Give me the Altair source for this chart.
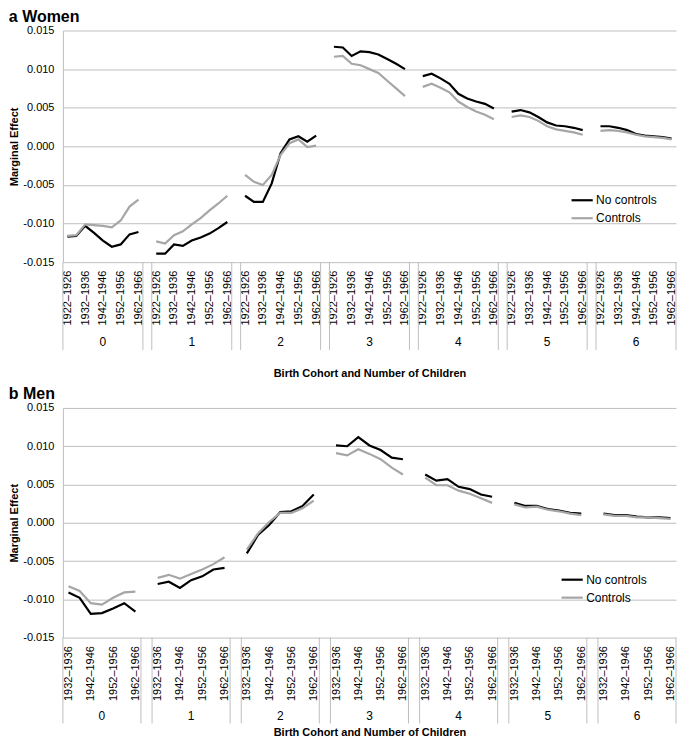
import json
import altair as alt
import pandas as pd

FONT = "Liberation Sans"

children = [0, 1, 2, 3, 4, 5, 6]
women_cohorts = ["1922–1926", "1927–1931", "1932–1936", "1937–1941", "1942–1946",
                 "1947–1951", "1952–1956", "1957–1961", "1962–1966"]
men_cohorts = ["1932–1936", "1937–1941", "1942–1946", "1947–1951", "1952–1956",
               "1957–1961", "1962–1966"]

women_no_controls = [
    [-0.0117, -0.0116, -0.0103, -0.0112, -0.0122, -0.0130, -0.0127, -0.0114, -0.0111],
    [-0.0139, -0.0139, -0.0127, -0.0129, -0.0122, -0.0118, -0.0113, -0.0106, -0.0098],
    [-0.0064, -0.0072, -0.0072, -0.0048, -0.0009, 0.0009, 0.0013, 0.0006, 0.0014],
    [0.0129, 0.0128, 0.0117, 0.0123, 0.0122, 0.0119, 0.0113, 0.0107, 0.0100],
    [0.0091, 0.0094, 0.0088, 0.0081, 0.0068, 0.0062, 0.0058, 0.0055, 0.0049],
    [0.0045, 0.0047, 0.0044, 0.0038, 0.0031, 0.0027, 0.0026, 0.0024, 0.0021],
    [0.0026, 0.0026, 0.0024, 0.0021, 0.0016, 0.0014, 0.0013, 0.0012, 0.0010],
]
women_controls = [
    [-0.0116, -0.0115, -0.0101, -0.0102, -0.0103, -0.0105, -0.0096, -0.0078, -0.0069],
    [-0.0123, -0.0126, -0.0115, -0.0110, -0.0101, -0.0093, -0.0083, -0.0074, -0.0064],
    [-0.0037, -0.0046, -0.0050, -0.0037, -0.0011, 0.0004, 0.0009, -0.0001, 0.0001],
    [0.0116, 0.0117, 0.0107, 0.0105, 0.0100, 0.0095, 0.0085, 0.0075, 0.0065],
    [0.0077, 0.0081, 0.0076, 0.0070, 0.0058, 0.0051, 0.0045, 0.0041, 0.0035],
    [0.0038, 0.0040, 0.0038, 0.0033, 0.0026, 0.0022, 0.0020, 0.0018, 0.0015],
    [0.0020, 0.0021, 0.0020, 0.0018, 0.0015, 0.0013, 0.0012, 0.0011, 0.0009],
]
men_no_controls = [
    [-0.0091, -0.0098, -0.0119, -0.0118, -0.0112, -0.0105, -0.0116],
    [-0.0080, -0.0077, -0.0085, -0.0075, -0.0070, -0.0061, -0.0059],
    [-0.0040, -0.0016, -0.0003, 0.0014, 0.0015, 0.0022, 0.0037],
    [0.0101, 0.0100, 0.0112, 0.0101, 0.0095, 0.0085, 0.0083],
    [0.0063, 0.0055, 0.0057, 0.0047, 0.0044, 0.0037, 0.0034],
    [0.0026, 0.0022, 0.0022, 0.0018, 0.0016, 0.0013, 0.0012],
    [0.0012, 0.0010, 0.0010, 0.0008, 0.0007, 0.0007, 0.0006],
]
men_controls = [
    [-0.0083, -0.0089, -0.0105, -0.0107, -0.0098, -0.0091, -0.0090],
    [-0.0072, -0.0068, -0.0073, -0.0067, -0.0061, -0.0054, -0.0045],
    [-0.0035, -0.0014, 0.0001, 0.0013, 0.0013, 0.0019, 0.0029],
    [0.0091, 0.0088, 0.0096, 0.0090, 0.0083, 0.0072, 0.0063],
    [0.0059, 0.0049, 0.0049, 0.0042, 0.0038, 0.0032, 0.0026],
    [0.0024, 0.0020, 0.0021, 0.0017, 0.0015, 0.0012, 0.0010],
    [0.0011, 0.0009, 0.0009, 0.0007, 0.0007, 0.0006, 0.0005],
]
series_names = ["No controls", "Controls"]
y_ticks = [-0.015, -0.010, -0.005, 0.0, 0.005, 0.010, 0.015]

GRID = "#bfbfbf"
PLOT_W = 614


def panel(title, cohorts, nc, c, height, leg_x, leg_y, title_pad, num_dy, rule_len):
    n = len(cohorts)
    period = n + 1
    npos = len(children) * period - 1
    rows = []
    for s, vals in zip(series_names, [nc, c]):
        for g, ch in enumerate(children):
            for i, coh in enumerate(cohorts):
                rows.append({"pos": g * period + i, "group": ch, "cohort": coh,
                             "series": s, "value": vals[g][i]})
    df = pd.DataFrame(rows)

    x_scale = alt.Scale(domain=[-0.5, npos - 0.5], nice=False, zero=False)
    label_arr = json.dumps(cohorts, ensure_ascii=False)
    tick_vals = [g * period + i for g in range(len(children)) for i in range(0, n, 2)]
    x_axis = alt.Axis(values=tick_vals, labelExpr=f"{label_arr}[datum.value % {period}]",
                      labelAngle=270, labelAlign="right", labelBaseline="middle",
                      labelPadding=8, ticks=False, domain=False, grid=False,
                      labelOverlap=False, labelFlush=False, labelFontSize=11,
                      labelColor="#000000",
                      title="Birth Cohort and Number of Children", titleFontSize=11,
                      titleFontWeight="bold", titleColor="#000000", titlePadding=title_pad)
    x_enc = alt.X("pos:Q", scale=x_scale, axis=x_axis)

    y_axis = alt.Axis(values=y_ticks,
                      labelExpr="replace(format(datum.value, '.3f'), '\u2212', '-')",
                      ticks=False, domain=True, domainColor=GRID, grid=True, gridColor=GRID,
                      labelPadding=9, labelFontSize=11, labelColor="#000000",
                      title="Marginal Effect", titleFontSize=11, titleFontWeight="bold",
                      titleColor="#000000", titlePadding=3)

    lines = alt.Chart(df).mark_line(strokeWidth=2.2).encode(
        x=x_enc,
        y=alt.Y("value:Q", scale=alt.Scale(domain=[-0.015, 0.015], nice=False, zero=False),
                axis=y_axis),
        color=alt.Color("series:N",
                        scale=alt.Scale(domain=series_names, range=["#000000", "#a6a6a6"]),
                        sort=series_names,
                        legend=alt.Legend(orient="none", legendX=leg_x, legendY=leg_y,
                                          title=None, symbolType="stroke",
                                          symbolStrokeWidth=2.2, symbolSize=450,
                                          labelFontSize=12, labelColor="#000000",
                                          rowPadding=0, labelOffset=2, padding=0)),
        detail="group:N",
        order=alt.Order("pos:Q"),
    )

    bounds = sorted(set([g * period - 0.5 for g in range(len(children))] +
                        [g * period + n - 0.5 for g in range(len(children))]))
    rules = alt.Chart(pd.DataFrame({"pos": bounds})).mark_rule(
        color=GRID, strokeWidth=1).encode(
        x=x_enc, y=alt.value(height), y2=alt.value(height + rule_len))

    grp = pd.DataFrame({"pos": [g * period + (n - 1) / 2 for g in range(len(children))],
                        "label": [str(ch) for ch in children]})
    nums = alt.Chart(grp).mark_text(fontSize=12, color="#000000").encode(
        x=x_enc, y=alt.value(height + num_dy), text="label:N")

    return alt.layer(rules, lines, nums).properties(
        width=PLOT_W, height=height,
        title=alt.TitleParams(text=title, anchor="start", frame="bounds", fontSize=16,
                              fontWeight="bold", color="#000000", offset=0, font=FONT),
    )


women = panel("a  Women", women_cohorts, women_no_controls, women_controls,
              height=232, leg_x=508, leg_y=158, title_pad=42, num_dy=80, rule_len=88)
men = panel("b  Men", men_cohorts, men_no_controls, men_controls,
            height=230, leg_x=498, leg_y=160, title_pad=26, num_dy=79, rule_len=86)

chart = alt.vconcat(women, men, spacing=7).resolve_scale(
    x="independent", color="independent").resolve_legend(color="independent").properties(
    padding=0).configure(font=FONT).configure_view(stroke=None)

chart.save("out.html", embed_options={"renderer": "svg", "actions": False})
